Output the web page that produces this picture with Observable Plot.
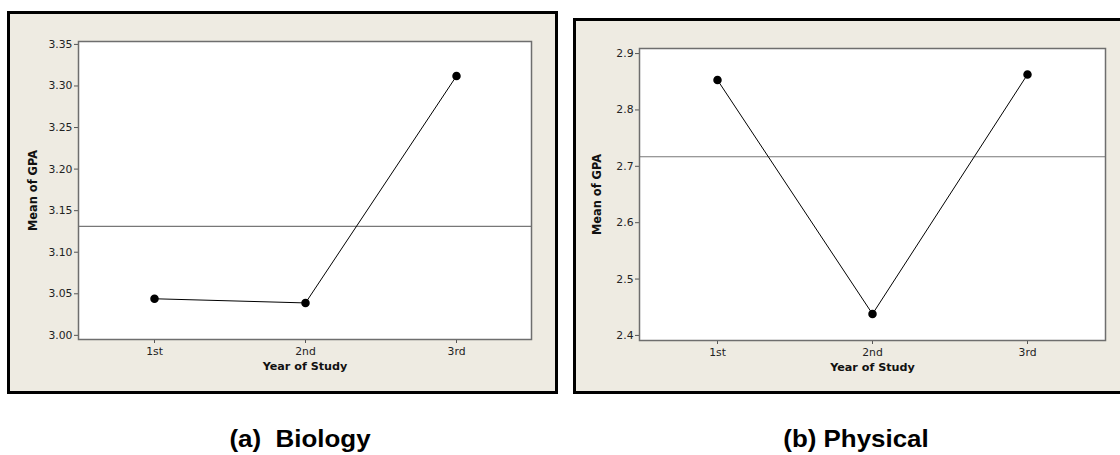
<!DOCTYPE html>
<html>
<head>
<meta charset="utf-8">
<script src="https://cdn.jsdelivr.net/npm/d3@7"></script>
<script src="https://cdn.jsdelivr.net/npm/@observablehq/plot@0.6"></script>
<style>
  html, body { margin: 0; padding: 0; background: #ffffff; }
  #root { position: relative; width: 1120px; height: 455px; overflow: hidden; background: #fff; }
  .panel { position: absolute; box-sizing: border-box; border: 3px solid #000; background: #eeebe2; }
  .panel svg { display: block; }
  .caption { position: absolute; height: 30px; line-height: 30px; text-align: center;
             font-family: "Liberation Sans", Arial, sans-serif; font-weight: bold; font-size: 24px; color: #000;
             white-space: pre; transform: scaleX(1.08); transform-origin: center; }
</style>
</head>
<body>
<div id="root">
  <div class="panel" id="pA" style="left:7px; top:11px; width:551px; height:383px;"></div>
  <div class="panel" id="pB" style="left:573px; top:18px; width:550px; height:376px;"></div>
  <div class="caption" id="capA" style="left:200px; width:200px; top:424px;"></div>
  <div class="caption" id="capB" style="left:756px; width:200px; top:424px;"></div>
</div>
<script>
// ---- data ----
const years = ["1st", "2nd", "3rd"];
const biologyMeans = [3.044, 3.039, 3.312];
const biologyOverall = 3.131;
const physicalMeans = [2.853, 2.438, 2.863];
const physicalOverall = 2.717;
const biologyTicks = [3.00, 3.05, 3.10, 3.15, 3.20, 3.25, 3.30, 3.35];
const physicalTicks = [2.4, 2.5, 2.6, 2.7, 2.8, 2.9];
const captions = ["(a)  Biology", "(b) Physical"];
const xLabel = "Year of Study";
const yLabel = "Mean of GPA";

const FONT = '"DejaVu Sans", Tahoma, sans-serif';

function makeChart(means, overall, ticks, fmt, yDomain, dims) {
  const data = years.map((y, i) => ({year: y, gpa: means[i]}));
  return Plot.plot({
    width: dims.width,
    height: dims.height,
    marginLeft: dims.ml,
    marginRight: dims.mr,
    marginTop: dims.mt,
    marginBottom: dims.mb,
    style: {background: "transparent", fontFamily: FONT, fontSize: "10.8px", color: "#222", overflow: "visible"},
    x: {type: "point", domain: years, padding: 0.5},
    y: {domain: yDomain},
    marks: [
      Plot.frame({fill: "white", stroke: null}),
      Plot.axisX({ticks: years, tickSize: 4, tickPadding: 4, label: null, stroke: "#555", fontSize: 10.8}),
      Plot.axisY({ticks: ticks, tickFormat: d3.format(fmt), tickSize: 4, tickPadding: 2, label: null, stroke: "#555", fontSize: 10.8}),
      Plot.text([xLabel], {frameAnchor: "bottom", dy: 30, textAnchor: "middle", text: d => d, fontWeight: "bold", fontSize: 11.2, fill: "#111"}),
      Plot.text([yLabel], {frameAnchor: "left", dx: -dims.yLabOff, rotate: -90, textAnchor: "middle", text: d => d, fontWeight: "bold", fontSize: 11.4, fill: "#111"}),
      Plot.ruleY([overall], {stroke: "#777", strokeWidth: 1.2}),
      Plot.line(data, {x: "year", y: "gpa", stroke: "#000", strokeWidth: 1}),
      Plot.dot(data, {x: "year", y: "gpa", r: 3.5, fill: "#000", stroke: "#000"}),
      Plot.frame({stroke: "#6e6e6e", strokeWidth: 1.5})
    ]
  });
}

document.getElementById("pA").appendChild(
  makeChart(biologyMeans, biologyOverall, biologyTicks, ".2f", [2.995, 3.3535],
    {width: 545, height: 377, ml: 68, mr: 24, mt: 27, mb: 52, yLabOff: 45}));
document.getElementById("pB").appendChild(
  makeChart(physicalMeans, physicalOverall, physicalTicks, ".1f", [2.391, 2.909],
    {width: 544, height: 370, ml: 63, mr: 15, mt: 27, mb: 51, yLabOff: 42}));

document.getElementById("capA").textContent = captions[0];
document.getElementById("capB").textContent = captions[1];
</script>
</body>
</html>
